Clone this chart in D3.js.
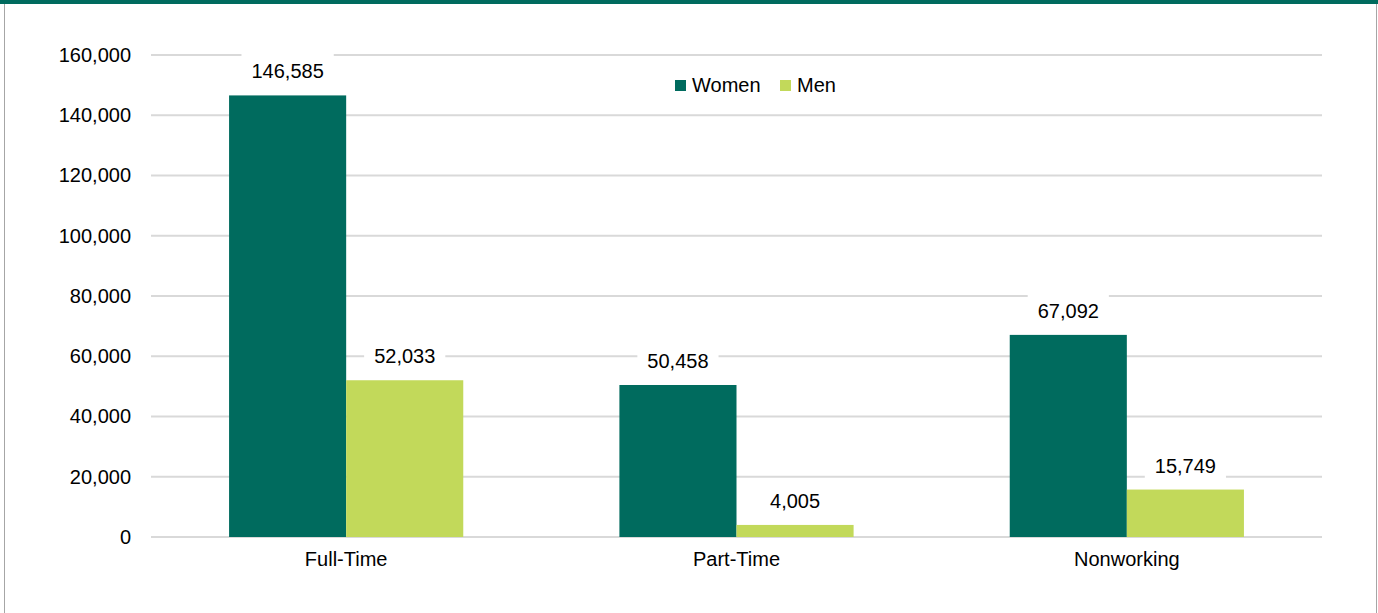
<!DOCTYPE html>
<html><head><meta charset="utf-8">
<script src="https://cdn.jsdelivr.net/npm/d3@7"></script>
<style>body{margin:0;background:#fff;}svg{display:block;font-family:"Liberation Sans",Arial,sans-serif;}</style>
</head><body>
<script>
const categories = ["Full-Time", "Part-Time", "Nonworking"];
const seriesNames = ["Women", "Men"];
const women = [146585, 50458, 67092];
const men = [52033, 4005, 15749];
const yTicks = [0, 20000, 40000, 60000, 80000, 100000, 120000, 140000, 160000];
const colors = ["#006B5E", "#C2D95A"];

const W = 1378, H = 613;
const FONT = 20;
const svg = d3.select("body").append("svg").attr("width", W).attr("height", H);

// frame
svg.append("rect").attr("x", 0).attr("y", 0).attr("width", W).attr("height", 4).attr("fill", "#006B5E");
svg.append("line").attr("x1", 4.5).attr("x2", 4.5).attr("y1", 4).attr("y2", H).attr("stroke", "#A6A6A6").attr("stroke-width", 1);
svg.append("line").attr("x1", 1376.5).attr("x2", 1376.5).attr("y1", 4).attr("y2", H).attr("stroke", "#A6A6A6").attr("stroke-width", 1);

const x0 = d3.scaleBand().domain(categories).range([151, 1322]).paddingInner(0.4).paddingOuter(0.2);
const x1 = d3.scaleBand().domain(seriesNames).range([0, x0.bandwidth()]);
const y = d3.scaleLinear().domain([0, 160000]).range([537, 55]);

// gridlines
svg.append("g").selectAll("line").data(yTicks).join("line")
  .attr("x1", 151).attr("x2", 1322)
  .attr("y1", d => y(d)).attr("y2", d => y(d))
  .attr("stroke", "#D9D9D9").attr("stroke-width", 2);

// y axis labels
const yAxis = d3.axisLeft(y).tickValues(yTicks).tickFormat(d3.format(",")).tickSize(0).tickPadding(0);
const ya = svg.append("g").attr("transform", "translate(131,0)").call(yAxis);
ya.select(".domain").remove();
ya.selectAll("text").attr("font-size", FONT).attr("fill", "#000").attr("font-family", "Liberation Sans, Arial, sans-serif");

// x axis labels
const xAxis = d3.axisBottom(x0).tickSize(0).tickPadding(0);
const xa = svg.append("g").attr("transform", "translate(0,552)").call(xAxis);
xa.select(".domain").remove();
xa.selectAll("text").attr("font-size", FONT).attr("fill", "#000").attr("font-family", "Liberation Sans, Arial, sans-serif");

const data = categories.map((c, i) => ({cat: c, vals: [{s: "Women", v: women[i]}, {s: "Men", v: men[i]}]}));

const groups = svg.append("g").selectAll("g").data(data).join("g")
  .attr("transform", d => `translate(${x0(d.cat)},0)`);

groups.selectAll("rect").data(d => d.vals).join("rect")
  .attr("x", d => x1(d.s)).attr("width", x1.bandwidth())
  .attr("y", d => y(d.v)).attr("height", d => y(0) - y(d.v))
  .attr("fill", (d, i) => colors[i]);

// value labels with white background
const fmt = d3.format(",");
const lbl = groups.selectAll("g.lbl").data(d => d.vals).join("g").attr("class", "lbl")
  .attr("transform", d => `translate(${x1(d.s) + x1.bandwidth() / 2},${y(d.v) - 24})`);
const bg = lbl.append("rect").attr("fill", "#fff");
const tx = lbl.append("text").attr("text-anchor", "middle").attr("dy", "0.35em")
  .attr("font-size", FONT).attr("fill", "#000").text(d => fmt(d.v));
tx.each(function(d, i) {
  const w = this.getComputedTextLength();
  d3.select(this.parentNode).select("rect")
    .attr("x", -w / 2 - 10).attr("width", w + 20).attr("y", -18).attr("height", 36);
});

// legend
const leg = svg.append("g").attr("transform", "translate(675,85)");
const items = [{n: "Women", x: 0}, {n: "Men", x: 105}];
items.forEach((it, i) => {
  leg.append("rect").attr("x", it.x).attr("y", -5).attr("width", 11).attr("height", 11).attr("fill", colors[i]);
  leg.append("text").attr("x", it.x + 17).attr("dy", "0.35em").attr("font-size", FONT).attr("fill", "#000").text(it.n);
});
</script>
</body></html>
